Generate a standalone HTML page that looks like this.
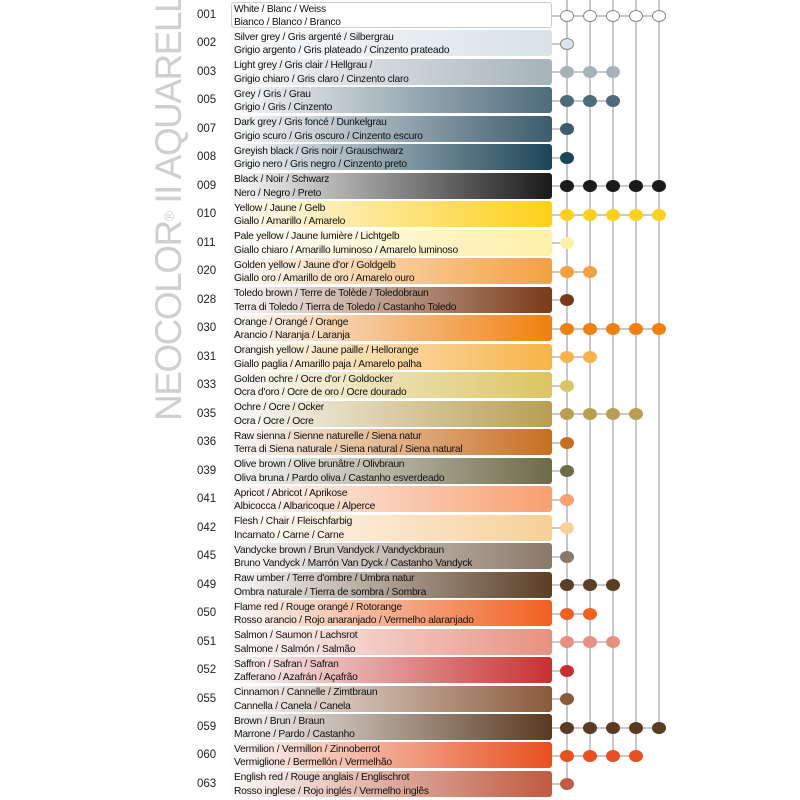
<!DOCTYPE html>
<html><head><meta charset="utf-8"><style>
html,body{margin:0;padding:0;background:#fff;}
#c{position:relative;width:800px;height:800px;overflow:hidden;font-family:"Liberation Sans",sans-serif;}
.v{position:absolute;left:154px;top:421px;transform-origin:0 0;transform:rotate(-90deg);font-size:37px;line-height:30px;color:#cfcfcf;white-space:nowrap;font-weight:normal;letter-spacing:-1.5px}
.code{position:absolute;left:197px;font-size:11.5px;color:#222}
.bar{position:absolute;left:231px;width:321px;height:26px;border-radius:3px}
.t{position:absolute;left:234px;font-size:10.3px;color:#111;line-height:13.5px;letter-spacing:-0.25px;white-space:nowrap}
.vl{position:absolute;width:2px;background:#c8c8c8;top:0}
.hl{position:absolute;height:2px;background:#c8c8c8;left:552px}
.d{position:absolute;width:14px;height:12px;border-radius:50%}
</style></head><body><div id="c">
<div class="v">NEOCOLOR<span style="font-size:14px;vertical-align:top">®</span> II AQUARELLE</div>
</div>
<script>
var R=[
["001","White / Blanc / Weiss","Bianco / Blanco / Branco","#ffffff",5],
["002","Silver grey / Gris argenté / Silbergrau","Grigio argento / Gris plateado / Cinzento prateado","#d8e2e8",1],
["003","Light grey / Gris clair / Hellgrau /","Grigio chiaro / Gris claro / Cinzento claro","#a5b3bb",3],
["005","Grey / Gris / Grau","Grigio / Gris / Cinzento","#4e6b7c",3],
["007","Dark grey / Gris foncé / Dunkelgrau","Grigio scuro / Gris oscuro / Cinzento escuro","#3c5b6d",1],
["008","Greyish black / Gris noir / Grauschwarz","Grigio nero / Gris negro / Cinzento preto","#1c4557",1],
["009","Black / Noir / Schwarz","Nero / Negro / Preto","#1a1a1a",5],
["010","Yellow / Jaune / Gelb","Giallo / Amarillo / Amarelo","#ffd018",5],
["011","Pale yellow / Jaune lumière / Lichtgelb","Giallo chiaro / Amarillo luminoso / Amarelo luminoso","#fff0a8",1],
["020","Golden yellow / Jaune d'or / Goldgelb","Giallo oro / Amarillo de oro / Amarelo ouro","#f5a040",2],
["028","Toledo brown / Terre de Tolède / Toledobraun","Terra di Toledo / Tierra de Toledo / Castanho Toledo","#7a3a18",1],
["030","Orange / Orangé / Orange","Arancio / Naranja / Laranja","#f08010",5],
["031","Orangish yellow / Jaune paille / Hellorange","Giallo paglia / Amarillo paja / Amarelo palha","#f8b448",2],
["033","Golden ochre / Ocre d'or / Goldocker","Ocra d'oro / Ocre de oro / Ocre dourado","#dcc462",1],
["035","Ochre / Ocre / Ocker","Ocra / Ocre / Ocre","#b89e52",4],
["036","Raw sienna / Sienne naturelle / Siena natur","Terra di Siena naturale / Siena natural / Siena natural","#c86e20",1],
["039","Olive brown / Olive brunâtre / Olivbraun","Oliva bruna / Pardo oliva / Castanho esverdeado","#6e6a48",1],
["041","Apricot / Abricot / Aprikose","Albicocca / Albaricoque / Alperce","#f8a070",1],
["042","Flesh / Chair / Fleischfarbig","Incarnato / Carne / Carne","#f8d098",1],
["045","Vandycke brown / Brun Vandyck / Vandyckbraun","Bruno Vandyck / Marrón Van Dyck / Castanho Vandyck","#8a7868",1],
["049","Raw umber / Terre d'ombre / Umbra natur","Ombra naturale / Tierra de sombra / Sombra","#5a3e25",3],
["050","Flame red / Rouge orangé / Rotorange","Rosso arancio / Rojo anaranjado / Vermelho alaranjado","#f06020",2],
["051","Salmon / Saumon / Lachsrot","Salmone / Salmón / Salmão","#e89080",3],
["052","Saffron / Safran / Safran","Zafferano / Azafrán / Açafrão","#c83030",1],
["055","Cinnamon / Cannelle / Zimtbraun","Cannella / Canela / Canela","#8a5a3a",1],
["059","Brown / Brun / Braun","Marrone / Pardo / Castanho","#5a3a20",5],
["060","Vermilion / Vermillon / Zinnoberrot","Vermiglione / Bermellón / Vermelhão","#e85020",4],
["063","English red / Rouge anglais / Englischrot","Rosso inglese / Rojo inglés / Vermelho inglês","#c05a40",1]];
var P=28.48,T=2,X=[567,590,613,636,659],h='';
var last=[27,26,26,26,25];
for(var k=0;k<5;k++)h+='<div class="vl" style="left:'+(X[k]-1)+'px;height:'+(T+last[k]*P+14)+'px"></div>';
R.forEach(function(r,i){var y=T+i*P,cy=y+13.5;
h+='<div class="code" style="top:'+(y+7)+'px">'+r[0]+'</div>';
var bg=i==0?'#fff;border:1px solid #ccc;box-sizing:border-box':'linear-gradient(to right,#fbfbfb 0%,'+r[3]+' 100%)';
h+='<div class="bar" style="top:'+y+'px;background:'+bg+'"></div>';
h+='<div class="t" style="top:'+(y+0.5)+'px">'+r[1]+'<br>'+r[2]+'</div>';
h+='<div class="hl" style="top:'+(cy-1)+'px;width:'+(X[r[4]-1]-552)+'px"></div>';
for(var k=0;k<r[4];k++){var b=(i<2)?'background:'+(i==0?'#fff':'#dde5ea')+';border:1px solid #888;box-sizing:border-box':'background:'+r[3];
h+='<div class="d" style="left:'+(X[k]-7)+'px;top:'+(cy-6)+'px;'+b+'"></div>';}
});
document.getElementById('c').insertAdjacentHTML('beforeend',h);
</script>
</body></html>
